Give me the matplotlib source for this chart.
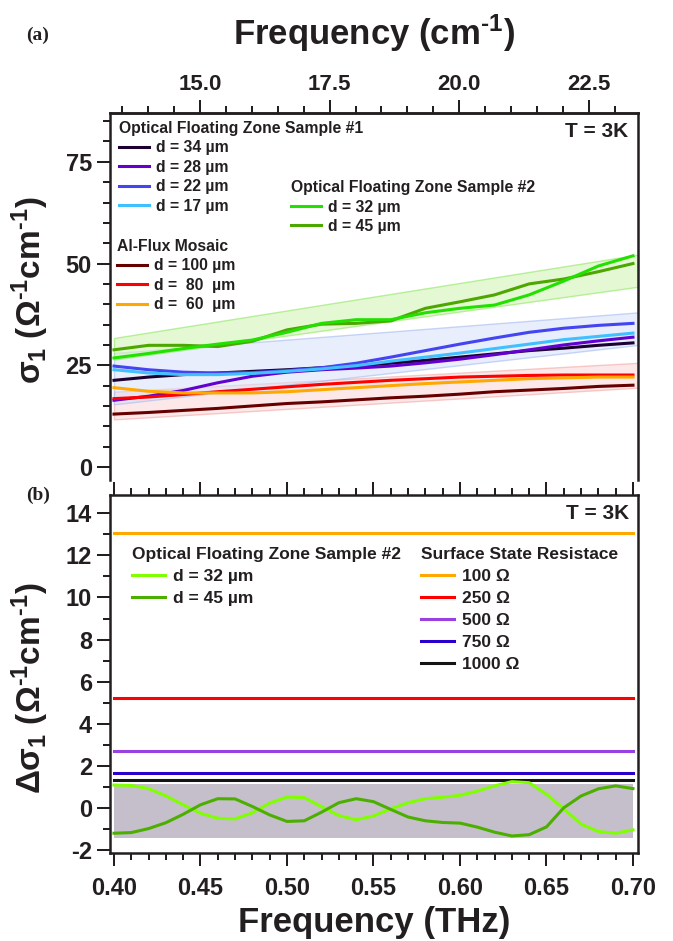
import numpy as np
import matplotlib
matplotlib.use('Agg')
from matplotlib import pyplot as plt
from matplotlib.ticker import MultipleLocator, FixedLocator, FormatStrFormatter

plt.rcParams['font.family'] = ['Liberation Sans', 'DejaVu Sans']
plt.rcParams['font.weight'] = 'bold'
plt.rcParams['axes.unicode_minus'] = False
plt.rcParams['mathtext.fontset'] = 'custom'
plt.rcParams['mathtext.rm'] = 'Liberation Sans:bold'
plt.rcParams['mathtext.it'] = 'Liberation Sans:bold'
plt.rcParams['mathtext.bf'] = 'Liberation Sans:bold'

INK = '#231f20'

# ---- panel (a): sigma_1 vs frequency ----
freq = [0.40, 0.42, 0.44, 0.46, 0.48, 0.50, 0.52, 0.54,
        0.56, 0.58, 0.60, 0.62, 0.64, 0.66, 0.68, 0.70]

ofz1_d34 = [21.3, 22.1, 22.7, 23.1, 23.5, 23.9, 24.4, 24.8,
            25.5, 26.2, 27.0, 27.8, 28.6, 29.2, 29.9, 30.5]
ofz1_d28 = [16.4, 17.4, 18.8, 20.7, 22.3, 23.3, 23.9, 24.3,
            24.8, 25.6, 26.5, 27.6, 28.8, 30.0, 31.0, 31.9]
ofz1_d22 = [24.8, 23.9, 23.3, 23.1, 23.2, 23.7, 24.4, 25.5,
            27.0, 28.6, 30.2, 31.7, 33.1, 34.1, 34.8, 35.3]
ofz1_d17 = [23.9, 23.1, 22.7, 22.7, 23.0, 23.5, 24.1, 24.9,
            26.0, 27.0, 28.0, 29.1, 30.2, 31.3, 32.1, 32.9]
alf_d100 = [13.0, 13.4, 13.9, 14.4, 15.0, 15.6, 16.0, 16.5,
            17.0, 17.4, 17.9, 18.5, 18.9, 19.3, 19.8, 20.1]
alf_d80 = [16.8, 17.2, 17.8, 18.5, 19.1, 19.7, 20.3, 20.8,
           21.3, 21.7, 22.1, 22.3, 22.5, 22.6, 22.6, 22.6]
alf_d60 = [19.5, 18.6, 18.2, 18.2, 18.2, 18.5, 19.0, 19.5,
           20.0, 20.5, 20.9, 21.3, 21.7, 21.9, 22.1, 22.1]
ofz2_d32 = [26.8, 27.9, 29.1, 30.2, 31.2, 33.1, 35.3, 36.2,
            36.2, 37.9, 39.0, 39.8, 42.3, 45.7, 49.4, 51.9]
ofz2_d45 = [28.8, 29.9, 29.9, 29.6, 30.9, 33.7, 35.1, 35.3,
            35.9, 39.0, 40.6, 42.3, 45.0, 46.2, 48.0, 50.0]

band_x = [0.40, 0.703]
green_lo, green_hi = [26.4, 44.3], [31.7, 52.2]
blue_lo, blue_hi = [15.4, 30.0], [28.0, 38.0]
red_lo, red_hi = [11.7, 19.5], [18.5, 25.6]

cm_ticks = [15.0, 17.5, 20.0, 22.5]

# ---- panel (b): delta sigma_1 ----
freq_b = [0.40, 0.41, 0.42, 0.43, 0.44, 0.45, 0.46, 0.47, 0.48, 0.49, 0.50,
          0.51, 0.52, 0.53, 0.54, 0.55, 0.56, 0.57, 0.58, 0.59, 0.60,
          0.61, 0.62, 0.63, 0.64, 0.65, 0.66, 0.67, 0.68, 0.69, 0.70]
dsig_d32 = [1.09, 1.07, 0.92, 0.57, 0.15, -0.25, -0.49, -0.52, -0.23, 0.23, 0.52,
            0.49, 0.06, -0.36, -0.56, -0.38, -0.04, 0.25, 0.44, 0.51, 0.60,
            0.80, 1.05, 1.25, 1.20, 0.65, -0.04, -0.77, -1.12, -1.20, -1.04]
dsig_d45 = [-1.20, -1.17, -0.98, -0.70, -0.30, 0.15, 0.44, 0.43, 0.07, -0.33, -0.64,
            -0.61, -0.20, 0.25, 0.44, 0.30, -0.07, -0.43, -0.61, -0.69, -0.72,
            -0.91, -1.15, -1.33, -1.27, -0.90, 0.01, 0.57, 0.91, 1.05, 0.92]
resist = ['100', '250', '500', '750', '1000']
resist_sigma = [13.05, 5.24, 2.70, 1.65, 1.32]
resist_colors = ['#ffa800', '#ff0000', '#9a40e0', '#2a00cc', '#141414']
shade_lo, shade_hi = -1.42, 1.12

HY = '\u2010'  # plain hyphen for the superscript "-1"


def thz2cm(f):
    return np.asarray(f) / 0.0299792458


def cm2thz(k):
    return np.asarray(k) * 0.0299792458


def style_axes(ax):
    for s in ax.spines.values():
        s.set_linewidth(1.8)
        s.set_color(INK)
    ax.tick_params(which='both', direction='out', width=1.45, color=INK,
                   labelcolor=INK)
    ax.tick_params(which='major', length=9.4)
    ax.tick_params(which='minor', length=5)


def add_legend(ax, handles, labels, title, x, y, fs, sp, last=False):
    leg = ax.legend(handles, labels, title=title, loc='upper left',
                    bbox_to_anchor=(x, y), frameon=False, fontsize=fs,
                    title_fontsize=fs, handlelength=1.9, handletextpad=0.45,
                    labelspacing=sp, borderpad=0, borderaxespad=0,
                    alignment='left')
    for t in leg.get_texts():
        t.set_color(INK)
    leg.get_title().set_color(INK)
    leg.get_title().set_fontweight('bold')
    if not last:
        ax.add_artist(leg)
    return leg


fig = plt.figure(figsize=(6.73, 9.41), dpi=100)
ax1 = fig.add_axes([110 / 673, 1 - 480 / 941, 528 / 673, 367 / 941])
ax2 = fig.add_axes([110 / 673, 1 - 853 / 941, 528 / 673, 358 / 941])

xlim = (0.3977, 0.7029)

# panel (a)
ax1.fill_between(band_x, red_lo, red_hi, facecolor='#fbd6d6', edgecolor='#f5a0a0',
                 alpha=0.55, lw=1)
ax1.fill_between(band_x, blue_lo, blue_hi, facecolor='#d6e0fa', edgecolor='#9fb6f2',
                 alpha=0.55, lw=1)
ax1.fill_between(band_x, green_lo, green_hi, facecolor='#d2f4b8', edgecolor='#8ee860',
                 alpha=0.6, lw=1)

lw = 2.2
h34, = ax1.plot(freq, ofz1_d34, color='#1c0030', lw=lw)
h28, = ax1.plot(freq, ofz1_d28, color='#6200d0', lw=lw)
h22, = ax1.plot(freq, ofz1_d22, color='#4444f2', lw=lw)
h17, = ax1.plot(freq, ofz1_d17, color='#40c0ff', lw=lw)
h100, = ax1.plot(freq, alf_d100, color='#660000', lw=lw)
h80, = ax1.plot(freq, alf_d80, color='#ff0000', lw=lw)
h60, = ax1.plot(freq, alf_d60, color='#ffa800', lw=lw)
h45, = ax1.plot(freq, ofz2_d45, color='#4ca800', lw=lw)
h32, = ax1.plot(freq, ofz2_d32, color='#22e000', lw=lw)

ax1.set_xlim(*xlim)
ax1.set_ylim(-3.2, 87)
style_axes(ax1)
ax1.spines['bottom'].set_visible(False)
ax1.tick_params(axis='x', which='both', bottom=False, top=False,
                labelbottom=False)
ax1.tick_params(axis='y', labelsize=17, pad=3.6)
ax1.yaxis.set_major_locator(MultipleLocator(25))
ax1.yaxis.set_minor_locator(MultipleLocator(5))

sec = ax1.secondary_xaxis('top', functions=(thz2cm, cm2thz))
sec.xaxis.set_major_locator(FixedLocator(cm_ticks))
sec.xaxis.set_minor_locator(MultipleLocator(0.5))
sec.xaxis.set_major_formatter(FormatStrFormatter('%.1f'))
style_axes(sec)
sec.tick_params(axis='x', labelsize=16, pad=3.6)

add_legend(ax1, [h34, h28, h22, h17],
           ['d = 34 \u00b5m', 'd = 28 \u00b5m', 'd = 22 \u00b5m', 'd = 17 \u00b5m'],
           'Optical Floating Zone Sample #1', 0.017, 0.978, 11.3, 0.28)
add_legend(ax1, [h100, h80, h60],
           ['d = 100 \u00b5m', 'd =  80  \u00b5m', 'd =  60  \u00b5m'],
           'Al-Flux Mosaic', 0.013, 0.657, 11.3, 0.28)
add_legend(ax1, [h32, h45], ['d = 32 \u00b5m', 'd = 45 \u00b5m'],
           'Optical Floating Zone Sample #2', 0.343, 0.817, 11.3, 0.28,
           last=True)
ax1.text(0.981, 0.949, 'T = 3K', transform=ax1.transAxes, ha='right',
         va='center', fontsize=15, color=INK)

# panel (b)
ax2.fill_between([0.40, 0.70], shade_lo, shade_hi, facecolor='#c5bfcc', lw=0)
rh = []
for s, c in zip(resist_sigma, resist_colors):
    hl, = ax2.plot([0.40, 0.70], [s, s], color=c, lw=2.2)
    rh.append(hl)
g32, = ax2.plot(freq_b, dsig_d32, color='#80ff00', lw=2.2)
g45, = ax2.plot(freq_b, dsig_d45, color='#4caf00', lw=2.2)

ax2.set_xlim(*xlim)
ax2.set_ylim(-2.14, 14.87)
style_axes(ax2)
ax2.tick_params(axis='x', which='both', top=True, labeltop=False)
ax2.tick_params(axis='x', labelsize=17, pad=8)
ax2.tick_params(axis='y', labelsize=17, pad=3.6)
ax2.xaxis.set_major_locator(MultipleLocator(0.05))
ax2.xaxis.set_minor_locator(MultipleLocator(0.01))
ax2.xaxis.set_major_formatter(FormatStrFormatter('%.2f'))
ax2.yaxis.set_major_locator(MultipleLocator(2))
ax2.yaxis.set_minor_locator(MultipleLocator(1))

add_legend(ax2, [g32, g45], ['d = 32 \u00b5m', 'd = 45 \u00b5m'],
           'Optical Floating Zone Sample #2', 0.042, 0.856, 12.5, 0.4)
add_legend(ax2, rh, [r + ' \u03a9' for r in resist],
           'Surface State Resistace', 0.589, 0.856, 12.5, 0.4, last=True)
ax2.text(0.983, 0.947, 'T = 3K', transform=ax2.transAxes, ha='right',
         va='center', fontsize=15, color=INK)

# figure-level labels
fig.text(374 / 673, 1 - 45 / 941, 'Frequency (cm$^{%s1}$)' % HY, ha='center',
         va='baseline', fontsize=25, color=INK)
fig.text(374 / 673, 1 - 932 / 941, 'Frequency (THz)', ha='center',
         va='baseline', fontsize=25, color=INK)
fig.text(30 / 673, 1 - 290 / 941,
         r'$\sigma_1$ ($\Omega^{%s1}$cm$^{%s1}$)' % (HY, HY),
         rotation=90, ha='center', va='center', fontsize=24, color=INK)
fig.text(30 / 673, 1 - 688 / 941,
         r'$\Delta\sigma_1$ ($\Omega^{%s1}$cm$^{%s1}$)' % (HY, HY),
         rotation=90, ha='center', va='center', fontsize=24, color=INK)
fig.text(26 / 673, 1 - 40 / 941, '(a)', family='Liberation Serif',
         fontsize=14, color=INK, va='baseline')
fig.text(26 / 673, 1 - 500 / 941, '(b)', family='Liberation Serif',
         fontsize=14, color=INK, va='baseline')

fig.savefig('out.png', dpi=100)
